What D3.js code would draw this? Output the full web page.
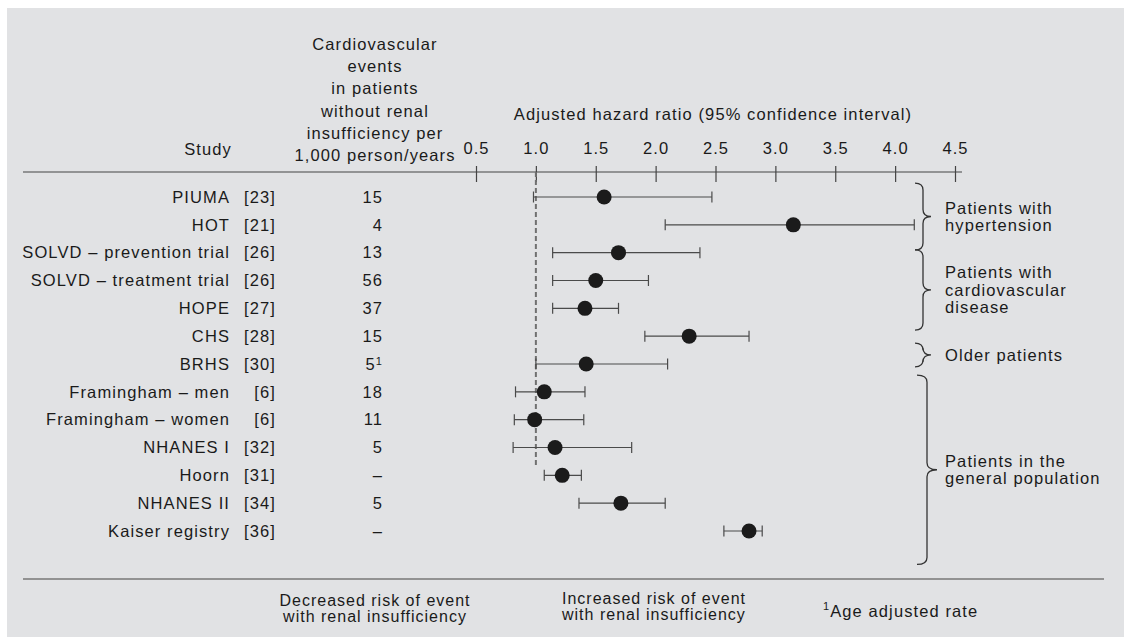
<!DOCTYPE html>
<html>
<head>
<meta charset="utf-8">
<script src="https://cdn.jsdelivr.net/npm/d3@7"></script>
<style>
  body { margin: 0; background: #fff; }
  svg { display: block; font-family: "Liberation Sans", Arial, sans-serif; letter-spacing: 1.1px; }
  text { fill: #1a1a1a; font-size: 16.5px; }
  .note { font-size: 16px; letter-spacing: 1px; }
</style>
</head>
<body>
<div id="chart"></div>
<script>
const studies = ["PIUMA", "HOT", "SOLVD \u2013 prevention trial", "SOLVD \u2013 treatment trial", "HOPE", "CHS", "BRHS",
  "Framingham \u2013 men", "Framingham \u2013 women", "NHANES I", "Hoorn", "NHANES II", "Kaiser registry"];
const refs = ["[23]", "[21]", "[26]", "[26]", "[27]", "[28]", "[30]", "[6]", "[6]", "[32]", "[31]", "[34]", "[36]"];
const events = ["15", "4", "13", "56", "37", "15", "5", "18", "11", "5", "\u2013", "5", "\u2013"];
const eventNotes = ["", "", "", "", "", "", "1", "", "", "", "", "", ""];
const hr = [1.57, 3.15, 1.69, 1.50, 1.41, 2.28, 1.42, 1.07, 0.99, 1.16, 1.22, 1.71, 2.78];
const lo = [0.98, 2.08, 1.14, 1.14, 1.14, 1.91, 1.00, 0.83, 0.82, 0.81, 1.07, 1.36, 2.57];
const hi = [2.47, 4.16, 2.37, 1.94, 1.69, 2.78, 2.10, 1.41, 1.40, 1.80, 1.38, 2.08, 2.89];
const ticks = [0.5, 1.0, 1.5, 2.0, 2.5, 3.0, 3.5, 4.0, 4.5];
const eventsHeader = ["Cardiovascular", "events", "in patients", "without renal", "insufficiency per", "1,000 person/years"];
const groups = [
  { lines: ["Patients with", "hypertension"], from: -0.5, to: 1.9 },
  { lines: ["Patients with", "cardiovascular", "disease"], from: 1.9, to: 4.78 },
  { lines: ["Older patients"], from: 5.25, to: 6.1 },
  { lines: ["Patients in the", "general population"], from: 6.4, to: 13.2 }
];
const refLineEnd = 9.7;

const W = 1124, H = 637;
const svg = d3.select("#chart").append("svg").attr("width", W).attr("height", H);
svg.append("rect").attr("x", 7).attr("y", 8).attr("width", W - 7).attr("height", H - 8).attr("fill", "#e1e2e4");

const x = d3.scaleLinear().domain([0.5, 4.5]).range([476, 955]);
const y = d3.scaleLinear().domain([0, 12]).range([197, 531]);
const axisY = 172;

// header
svg.append("text").attr("x", 208).attr("y", 155).attr("text-anchor", "middle").text("Study");
svg.append("g").selectAll("text").data(eventsHeader).join("text")
  .attr("x", 375).attr("y", (d, i) => 50 + i * 22.2).attr("text-anchor", "middle").text(d => d);
svg.append("text").attr("x", 713).attr("y", 120).attr("text-anchor", "middle")
  .text("Adjusted hazard ratio (95% confidence interval)");

// axis
svg.append("line").attr("x1", 23).attr("x2", 962).attr("y1", axisY).attr("y2", axisY)
  .attr("stroke", "#444").attr("stroke-width", 1.2);
const ax = svg.append("g").attr("transform", `translate(0,${axisY})`)
  .call(d3.axisTop(x).tickValues(ticks).tickFormat(d3.format(".1f")).tickSize(0).tickPadding(18));
ax.select(".domain").remove();
ax.selectAll(".tick line").attr("y1", -6).attr("y2", 10).attr("stroke", "#444").attr("stroke-width", 1.2);
ax.selectAll(".tick text").attr("font-size", 16.5).attr("font-family", null).attr("fill", "#1a1a1a");

// reference line at 1.0
svg.append("line").attr("x1", x(1)).attr("x2", x(1)).attr("y1", axisY).attr("y2", y(refLineEnd))
  .attr("stroke", "#707070").attr("stroke-width", 2).attr("stroke-dasharray", "5,3");

// rows
const rows = svg.append("g").selectAll("g").data(studies).join("g")
  .attr("transform", (d, i) => `translate(0,${y(i)})`);
rows.append("text").attr("x", 230).attr("dy", "0.35em").attr("text-anchor", "end").text(d => d);
rows.append("text").attr("x", 276).attr("dy", "0.35em").attr("text-anchor", "end").text((d, i) => refs[i]);
const ev = rows.append("text").attr("x", 383).attr("dy", "0.35em").attr("text-anchor", "end");
ev.append("tspan").text((d, i) => events[i]);
ev.append("tspan").attr("dy", "-0.45em").attr("font-size", 11).text((d, i) => eventNotes[i]);

rows.append("line").attr("x1", (d, i) => x(lo[i])).attr("x2", (d, i) => x(hi[i]))
  .attr("stroke", "#4a4a4a").attr("stroke-width", 1.2);
rows.append("line").attr("x1", (d, i) => x(lo[i])).attr("x2", (d, i) => x(lo[i]))
  .attr("y1", -5.5).attr("y2", 5.5).attr("stroke", "#4a4a4a").attr("stroke-width", 1.2);
rows.append("line").attr("x1", (d, i) => x(hi[i])).attr("x2", (d, i) => x(hi[i]))
  .attr("y1", -5.5).attr("y2", 5.5).attr("stroke", "#4a4a4a").attr("stroke-width", 1.2);
rows.append("circle").attr("cx", (d, i) => x(hr[i])).attr("r", 7.5).attr("fill", "#1b1b1b");

// braces
function brace(sx, y0, y1, w) {
  const ym = (y0 + y1) / 2, r = 7;
  return `M${sx - w},${y0} Q${sx},${y0} ${sx},${y0 + r} L${sx},${ym - r} Q${sx},${ym} ${sx + w},${ym}` +
    ` Q${sx},${ym} ${sx},${ym + r} L${sx},${y1 - r} Q${sx},${y1} ${sx - w},${y1}`;
}
const gb = svg.append("g").selectAll("g").data(groups).join("g");
gb.append("path").attr("d", (d, i) => brace(i === 3 ? 927 : 923, y(d.from), y(d.to), i === 3 ? 10 : 8))
  .attr("fill", "none").attr("stroke", "#333").attr("stroke-width", 1.3);
gb.each(function (d) {
  const ym = (y(d.from) + y(d.to)) / 2;
  const n = d.lines.length;
  d3.select(this).selectAll("text").data(d.lines).join("text")
    .attr("x", 945).attr("y", (t, j) => ym + (j - (n - 1) / 2) * 17.5).attr("dy", "0.35em").text(t => t);
});

// bottom
svg.append("line").attr("x1", 23).attr("x2", 1104).attr("y1", 579).attr("y2", 579)
  .attr("stroke", "#777").attr("stroke-width", 1.6);
const dec = svg.append("text").attr("class", "note").attr("x", 375).attr("y", 606).attr("text-anchor", "middle");
dec.append("tspan").attr("x", 375).text("Decreased risk of event");
dec.append("tspan").attr("x", 375).attr("dy", 16).text("with renal insufficiency");
const inc = svg.append("text").attr("class", "note").attr("x", 562).attr("y", 604);
inc.append("tspan").attr("x", 562).text("Increased risk of event");
inc.append("tspan").attr("x", 562).attr("dy", 16).text("with renal insufficiency");
const fn = svg.append("text").attr("x", 823).attr("y", 615);
fn.append("tspan").attr("font-size", 11).attr("dy", "-0.45em").text("1");
fn.append("tspan").attr("dy", "0.45em").text("Age adjusted rate");
</script>
</body>
</html>
